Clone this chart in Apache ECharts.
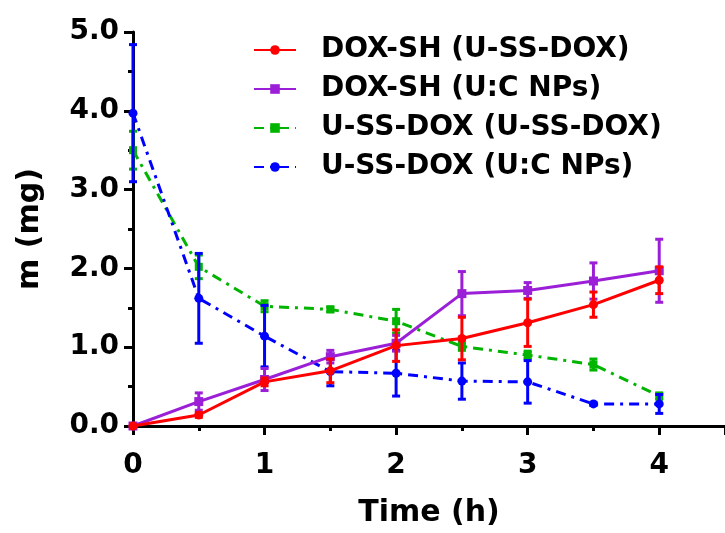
<!DOCTYPE html>
<html>
<head>
<meta charset="utf-8">
<script src="https://cdn.jsdelivr.net/npm/echarts@6/dist/echarts.min.js"></script>
<style>
  html, body { margin: 0; padding: 0; background: #fff; }
  #chart { width: 725px; height: 533px; }
</style>
</head>
<body>
<div id="chart"></div>
<script>
var time = [0, 0.5, 1, 1.5, 2, 2.5, 3, 3.5, 4];
// DOX-SH (U-SS-DOX)
var redMean = [0, 0.14, 0.56, 0.70, 1.02, 1.11, 1.31, 1.54, 1.85];
var redErr = [0, 0.03, 0.05, 0.15, 0.20, 0.27, 0.30, 0.16, 0.17];
// DOX-SH (U:C NPs)
var purpleMean = [0, 0.31, 0.59, 0.88, 1.05, 1.68, 1.72, 1.84, 1.97];
var purpleErr = [0, 0.11, 0.14, 0.08, 0.10, 0.28, 0.10, 0.23, 0.40];
// U-SS-DOX (U-SS-DOX)
var greenMean = [3.50, 2.02, 1.52, 1.48, 1.33, 1.01, 0.90, 0.78, 0.38];
var greenErr = [0.24, 0.15, 0.07, 0.03, 0.15, 0.05, 0.05, 0.07, 0.04];
// U-SS-DOX (U:C NPs)
var blueMean = [3.97, 1.62, 1.14, 0.69, 0.67, 0.57, 0.56, 0.28, 0.28];
var blueErr = [0.87, 0.57, 0.39, 0.18, 0.29, 0.23, 0.27, 0.02, 0.12];

var names = ["DOX-SH (U-SS-DOX)", "DOX-SH (U:C NPs)", "U-SS-DOX (U-SS-DOX)", "U-SS-DOX (U:C NPs)"];
var colors = ["#ff0000", "#9b1fd6", "#00b400", "#0000ff"];

var font = "DejaVu Sans, sans-serif";

function pairs(mean) {
    return time.map(function (t, i) { return [t, mean[i]]; });
}
function bars(mean, err) {
    return time.map(function (t, i) { return [t, mean[i] - err[i], mean[i] + err[i]]; });
}

// 误差棒
function errorSeries(mean, err, color, z) {
    return {
        type: "custom",
        z: z,
        silent: true,
        data: bars(mean, err),
        renderItem: function (params, api) {
            var lo = api.coord([api.value(0), api.value(1)]);
            var hi = api.coord([api.value(0), api.value(2)]);
            var w = 4;
            var style = { stroke: color, lineWidth: 3 };
            return {
                type: "group",
                children: [
                    { type: "line", shape: { x1: lo[0], y1: lo[1], x2: hi[0], y2: hi[1] }, style: style },
                    { type: "line", shape: { x1: lo[0] - w, y1: lo[1], x2: lo[0] + w, y2: lo[1] }, style: style },
                    { type: "line", shape: { x1: hi[0] - w, y1: hi[1], x2: hi[0] + w, y2: hi[1] }, style: style }
                ]
            };
        }
    };
}

function lineSeries(name, mean, color, symbol, size, dash, z) {
    return {
        name: name,
        type: "line",
        z: z,
        data: pairs(mean),
        symbol: symbol,
        symbolSize: size,
        showAllSymbol: true,
        itemStyle: { color: color },
        lineStyle: { color: color, width: 3, type: dash },
        emphasis: { disabled: true }
    };
}

var chart = echarts.init(document.getElementById("chart"));
var option = {
    animation: false,
    backgroundColor: "#fff",
    grid: { left: 133, right: -2, top: 32, bottom: 106 },
    legend: {
        orient: "vertical",
        left: 248,
        top: 30,
        itemWidth: 42,
        itemHeight: 12,
        itemGap: 9,
        data: names,
        textStyle: {
            fontFamily: font, fontWeight: "bold", fontSize: 28, color: "#000", lineHeight: 30,
            padding: [0, 0, 0, 20]
        }
    },
    xAxis: {
        type: "value",
        min: 0,
        max: 4.5,
        interval: 1,
        name: "Time (h)",
        nameLocation: "middle",
        nameGap: 72,
        nameTextStyle: { fontFamily: font, fontWeight: "bold", fontSize: 30, color: "#000" },
        axisLine: { lineStyle: { color: "#000", width: 3 } },
        axisTick: { length: 9, lineStyle: { width: 3, color: "#000" } },
        minorTick: { show: true, splitNumber: 2, length: 5, lineStyle: { width: 3, color: "#000" } },
        splitLine: { show: false },
        axisLabel: {
            margin: 26, showMaxLabel: false,
            fontFamily: font, fontWeight: "bold", fontSize: 28, color: "#000"
        }
    },
    yAxis: {
        type: "value",
        min: 0,
        max: 5,
        interval: 1,
        name: "m (mg)",
        nameLocation: "middle",
        nameGap: 88,
        nameTextStyle: { fontFamily: font, fontWeight: "bold", fontSize: 30, color: "#000" },
        axisLine: { show: true, lineStyle: { color: "#000", width: 3 } },
        axisTick: { show: true, length: 9, lineStyle: { width: 3, color: "#000" } },
        minorTick: { show: true, splitNumber: 2, length: 5, lineStyle: { width: 3, color: "#000" } },
        splitLine: { show: false },
        axisLabel: {
            margin: 14,
            fontFamily: font, fontWeight: "bold", fontSize: 28, color: "#000",
            formatter: function (v) { return v.toFixed(1); }
        }
    },
    series: [
        errorSeries(greenMean, greenErr, colors[2], 2),
        lineSeries(names[2], greenMean, colors[2], "rect", 8, [10, 6, 3, 6], 3),
        errorSeries(blueMean, blueErr, colors[3], 4),
        lineSeries(names[3], blueMean, colors[3], "circle", 9, [10, 6, 3, 6], 5),
        errorSeries(purpleMean, purpleErr, colors[1], 6),
        lineSeries(names[1], purpleMean, colors[1], "rect", 9, "solid", 7),
        errorSeries(redMean, redErr, colors[0], 8),
        lineSeries(names[0], redMean, colors[0], "circle", 9, "solid", 9)
    ]
};
chart.setOption(option);
</script>
</body>
</html>
